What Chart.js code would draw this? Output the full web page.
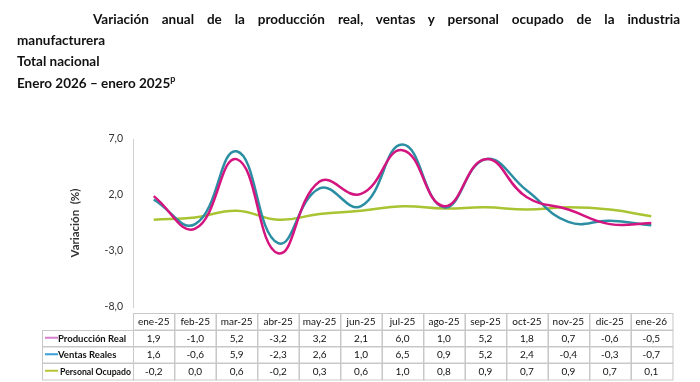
<!DOCTYPE html>
<html>
<head>
<meta charset="utf-8">
<script src="https://cdn.jsdelivr.net/npm/chart.js@4.4.1/dist/chart.umd.min.js"></script>
<style>
    body { margin: 0; background: #fff; }
    #wrap { position: relative; width: 700px; height: 382px; overflow: hidden; }
    #chart { position: absolute; left: 0; top: 0; }
    .t { position: absolute; font-family: Lato, "Open Sans", sans-serif; font-weight: bold; font-size: 13.5px; color: #111; white-space: nowrap; }
    #t1 { left: 93px; top: 11px; width: 587px; text-align: justify; text-align-last: justify; white-space: normal; }
    sup { font-size: 9px; }
</style>
</head>
<body>
<div id="wrap">
    <canvas id="chart" width="700" height="382"></canvas>
    <div class="t" id="t1">Variación anual de la producción real, ventas y personal ocupado de la industria</div>
    <div class="t" style="left:17px; top:32px;">manufacturera</div>
    <div class="t" style="left:17px; top:53px;">Total nacional</div>
    <div class="t" style="left:17px; top:73px;">Enero 2026 – enero 2025<sup>p</sup></div>
</div>
<script>
// Datos del gráfico
const meses = ['ene-25', 'feb-25', 'mar-25', 'abr-25', 'may-25', 'jun-25', 'jul-25', 'ago-25', 'sep-25', 'oct-25', 'nov-25', 'dic-25', 'ene-26'];
const produccionReal = [1.9, -1.0, 5.2, -3.2, 3.2, 2.1, 6.0, 1.0, 5.2, 1.8, 0.7, -0.6, -0.5];
const ventasReales = [1.6, -0.6, 5.9, -2.3, 2.6, 1.0, 6.5, 0.9, 5.2, 2.4, -0.4, -0.3, -0.7];
const personalOcupado = [-0.2, 0.0, 0.6, -0.2, 0.3, 0.6, 1.0, 0.8, 0.9, 0.7, 0.9, 0.7, 0.1];
const yTicks = [-8, -3, 2, 7];

const series = [
    { label: 'Producción Real', data: produccionReal, color: '#d4147f', legend: '#d77fcf', pad: 0 },
    { label: 'Ventas Reales', data: ventasReales, color: '#2b8ea3', legend: '#3a9fd6', pad: 0 },
    { label: 'Personal Ocupado', data: personalOcupado, color: '#a9c432', legend: '#b7c434', pad: 2 }
];

const fmt = v => v.toFixed(1).replace('.', ',');
const FONT = 'Lato, "Open Sans", sans-serif';

// Tabla de datos debajo del gráfico
const tablePlugin = {
    id: 'dataTable',
    afterDraw(chart) {
        const ctx = chart.ctx;
        const x = chart.scales.x;
        const colW = (x.right - x.left) / meses.length;
        const top = chart.chartArea.bottom + 6;
        const rowH = 16.5;
        const legendLeft = 42;
        const grid = '#c8c8c8';

        ctx.save();
        ctx.strokeStyle = grid;
        ctx.lineWidth = 1;
        ctx.fillStyle = '#111';
        ctx.font = '10px ' + FONT;
        ctx.textAlign = 'center';
        ctx.textBaseline = 'middle';

        // encabezado
        meses.forEach((m, i) => {
            const cx = x.getPixelForValue(i);
            ctx.strokeRect(Math.round(cx - colW / 2) + 0.5, Math.round(top) + 0.5, colW, rowH);
            ctx.fillText(m, cx, top + rowH / 2 + 1);
        });

        // filas
        series.forEach((s, r) => {
            const y = top + rowH * (r + 1);
            ctx.strokeRect(legendLeft + 0.5, Math.round(y) + 0.5, x.left - legendLeft, rowH);
            ctx.strokeStyle = s.legend;
            ctx.lineWidth = 2;
            ctx.beginPath();
            ctx.moveTo(legendLeft + 3, y + rowH / 2);
            ctx.lineTo(legendLeft + 16, y + rowH / 2);
            ctx.stroke();
            ctx.strokeStyle = grid;
            ctx.lineWidth = 1;
            ctx.textAlign = 'left';
            ctx.font = 'bold 9.5px ' + FONT;
            const lx = legendLeft + 16 + s.pad;
            ctx.fillText(s.label, lx, y + rowH / 2 + 1, x.left - lx - 2);
            ctx.font = '10px ' + FONT;
            ctx.textAlign = 'center';
            s.data.forEach((v, i) => {
                const cx = x.getPixelForValue(i);
                ctx.strokeRect(Math.round(cx - colW / 2) + 0.5, Math.round(y) + 0.5, colW, rowH);
                ctx.fillText(fmt(v), cx, y + rowH / 2 + 1);
            });
        });
        ctx.restore();
    }
};

new Chart(document.getElementById('chart'), {
    type: 'line',
    data: {
        labels: meses,
        datasets: series.map(s => ({
            label: s.label,
            data: s.data,
            borderColor: s.color,
            backgroundColor: s.color,
            borderWidth: 2.5,
            pointRadius: 0,
            tension: 0.45,
            fill: false
        }))
    },
    options: {
        responsive: false,
        animation: false,
        devicePixelRatio: 1,
        layout: { padding: { left: 64, right: 28, top: 139, bottom: 75 } },
        plugins: { legend: { display: false }, tooltip: { enabled: false } },
        scales: {
            x: { display: false, offset: true },
            y: {
                min: -8,
                max: 7,
                afterFit(scale) { scale.width = 69; },
                afterBuildTicks(scale) { scale.ticks = yTicks.map(v => ({ value: v })); },
                grid: { display: false },
                border: { display: true, color: '#d0d0d0', width: 1 },
                ticks: {
                    padding: 2,
                    color: '#333',
                    font: { size: 10.5, family: FONT },
                    callback: v => fmt(v)
                },
                title: {
                    display: true,
                    text: 'Variación  (%)',
                    color: '#333',
                    font: { size: 11.5, weight: 'bold', family: FONT }
                }
            }
        }
    },
    plugins: [tablePlugin]
});
</script>
</body>
</html>
